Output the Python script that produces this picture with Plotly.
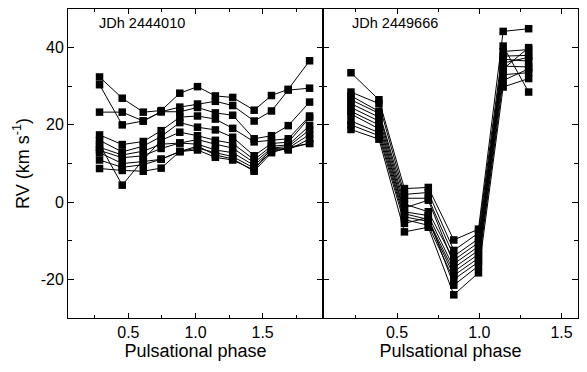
import plotly.graph_objects as go
from plotly.subplots import make_subplots

# Left panel: JDh 2444010
phase_left = [0.285, 0.454, 0.611, 0.744, 0.883, 1.015, 1.148, 1.277, 1.437, 1.566, 1.691, 1.85]
rv_left = [
    [32.4, 26.9, 23.3, 23.7, 28.2, 29.9, 27.5, 27.1, 23.8, 27.6, 29.2, 36.6],
    [30.4, 20.0, 21.0, 23.4, 24.6, 25.4, 26.1, 25.0, 21.0, 23.6, 29.0, 29.5],
    [23.3, 23.3, 21.0, 23.4, 23.4, 24.5, 23.1, 22.5, 16.4, 17.2, 19.8, 25.9],
    [17.4, 14.9, 15.7, 18.5, 22.0, 22.3, 21.5, 19.1, 15.6, 16.0, 16.4, 22.3],
    [16.0, 13.0, 14.5, 17.0, 20.6, 19.4, 18.7, 16.8, 12.0, 15.2, 15.5, 21.9],
    [15.0, 4.4, 11.0, 16.0, 18.1, 17.2, 16.0, 15.2, 11.0, 14.5, 14.8, 19.8],
    [14.2, 12.2, 13.2, 15.0, 15.3, 16.2, 15.0, 14.0, 10.2, 14.0, 14.4, 18.7],
    [13.4, 11.5, 12.0, 13.9, 15.3, 15.0, 13.5, 12.8, 9.5, 13.5, 14.0, 17.5],
    [12.8, 10.0, 10.5, 11.1, 13.1, 14.0, 12.8, 11.8, 8.8, 13.0, 13.9, 15.2],
    [10.9, 9.0, 9.7, 11.1, 13.1, 13.5, 11.6, 10.9, 8.3, 14.0, 13.5, 16.4],
    [8.7, 8.2, 8.0, 8.8, 13.1, 14.5, 12.2, 11.2, 8.0, 12.8, 14.2, 15.2],
]

# Right panel: JDh 2449666
phase_right = [0.22, 0.39, 0.545, 0.69, 0.845, 0.995, 1.145, 1.30]
rv_right = [
    [33.5, 26.5, 3.5, 3.8, -9.8, -7.0, 44.2, 44.9],
    [28.5, 25.5, 2.0, 2.5, -12.5, -8.0, 40.4, 28.5],
    [27.5, 23.5, 1.0, 1.0, -14.0, -9.5, 39.0, 39.5],
    [26.5, 23.0, -0.5, -2.5, -15.0, -10.5, 37.8, 38.0],
    [25.5, 22.0, -1.5, 0.5, -16.0, -11.5, 37.0, 36.5],
    [24.5, 21.0, -2.5, -3.5, -17.0, -12.5, 36.0, 37.5],
    [23.5, 20.0, -3.0, -4.5, -18.0, -13.5, 35.2, 35.0],
    [22.8, 19.0, -3.8, -5.0, -19.0, -14.5, 34.5, 40.0],
    [21.0, 18.0, -4.5, -6.0, -20.0, -15.5, 33.0, 33.5],
    [20.0, 17.2, -5.5, -4.0, -21.5, -16.5, 31.5, 34.5],
    [18.8, 16.3, -7.7, -6.5, -24.0, -18.3, 29.8, 32.0],
]

labels = ["JDh 2444010", "JDh 2449666"]
y_tickvals = [-20, 0, 20, 40]
y_ticktext = ["-20", "0", "20", "40"]
x_tickvals = [0.5, 1.0, 1.5]
x_ticktext = ["0.5", "1.0", "1.5"]

FONT = "Liberation Sans, Arial, sans-serif"

fig = make_subplots(rows=1, cols=2, shared_yaxes=True, horizontal_spacing=0)

for ys in rv_left:
    fig.add_trace(go.Scatter(x=phase_left, y=ys, mode="lines+markers",
                             line=dict(color="black", width=1),
                             marker=dict(symbol="square", size=7.5, color="black"),
                             showlegend=False), row=1, col=1)
for ys in rv_right:
    fig.add_trace(go.Scatter(x=phase_right, y=ys, mode="lines+markers",
                             line=dict(color="black", width=1),
                             marker=dict(symbol="square", size=7.5, color="black"),
                             showlegend=False), row=1, col=2)

axis_common = dict(showline=True, linecolor="black", linewidth=1, mirror="ticks",
                   ticks="inside", tickcolor="black", tickwidth=1,
                   showgrid=False, zeroline=False,
                   tickfont=dict(family=FONT, size=16, color="black"),
                   title_font=dict(family=FONT, size=18, color="black"))

fig.update_xaxes(**axis_common, ticklen=5, tickvals=x_tickvals, ticktext=x_ticktext,
                 minor=dict(ticks="inside", ticklen=3, dtick=0.25, tick0=0, tickcolor="black", showgrid=False),
                 title_text="Pulsational phase", title_standoff=2)
fig.update_xaxes(range=[0.05, 1.95], row=1, col=1)
fig.update_xaxes(range=[0.05, 1.6], row=1, col=2)

fig.update_yaxes(**axis_common, range=[-30, 50], tickvals=y_tickvals, ticktext=y_ticktext, ticklen=6,
                 minor=dict(ticks="inside", ticklen=4, dtick=10, tick0=0, tickcolor="black", showgrid=False))
fig.update_yaxes(title_text="RV (km s<sup>-1</sup>)", title_standoff=6, row=1, col=1)
fig.update_yaxes(showticklabels=False, row=1, col=2)

for i, lab in enumerate(labels):
    xref = "x domain" if i == 0 else "x2 domain"
    yref = "y domain" if i == 0 else "y2 domain"
    fig.add_annotation(text=lab, xref=xref, yref=yref, x=0.115 if i == 0 else 0.105, y=0.955,
                       xanchor="left", yanchor="middle", showarrow=False,
                       font=dict(family=FONT, size=14.5, color="black"))

# page body has an 8px default margin: shrink the figure to compensate
fig.update_layout(width=579, height=364, margin=dict(l=60, r=9, t=1, b=54),
                  paper_bgcolor="white", plot_bgcolor="white",
                  font=dict(family=FONT, color="black"))

fig.write_html("out.html")
